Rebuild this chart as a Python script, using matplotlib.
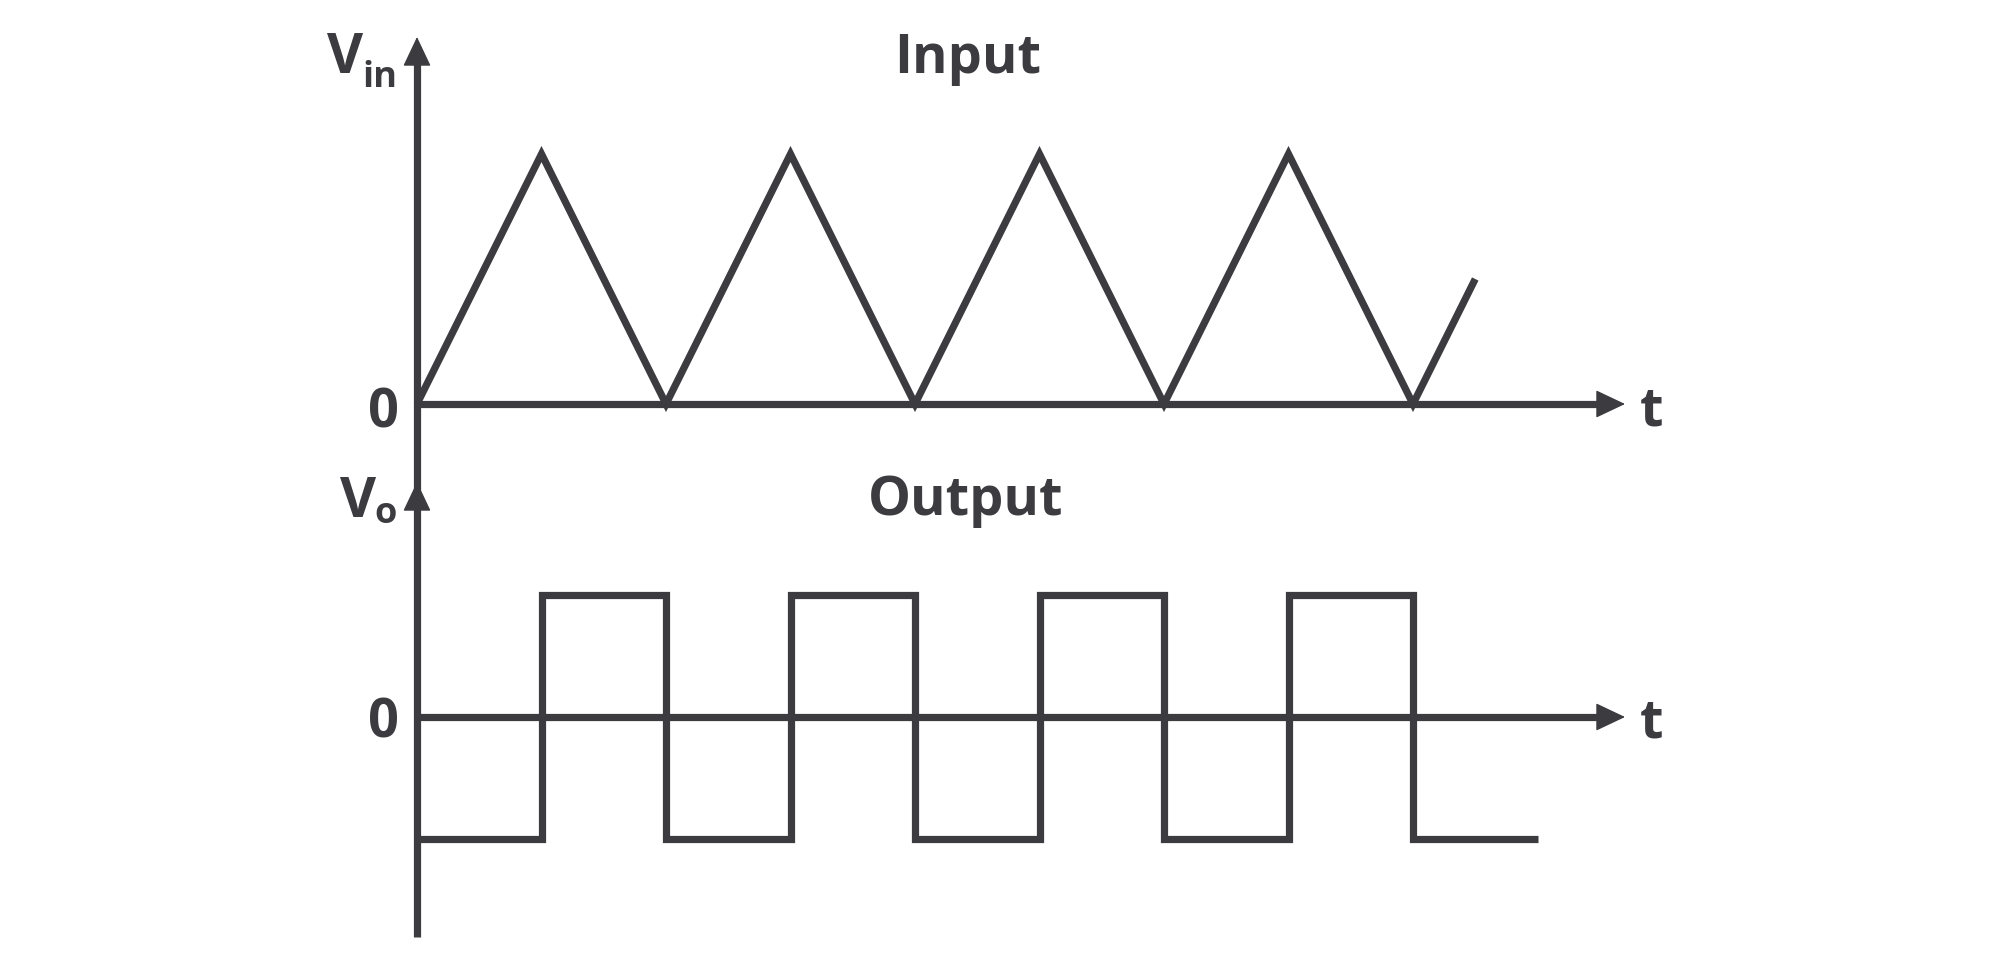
import numpy as np
import matplotlib.pyplot as plt

ink = '#3b3b40'
plt.rcParams['font.family'] = ['Open Sans', 'DejaVu Sans']

# input: triangle wave, time in half-periods
t_in = [0, 1, 2, 3, 4, 5, 6, 7, 8, 8.5]
v_in = [0, 1, 0, 1, 0, 1, 0, 1, 0, 0.5]

# output: square wave, flips at every peak / trough of the input
t_sw = [0, 1, 2, 3, 4, 5, 6, 7, 8, 9]
v_out = [-1, 1, -1, 1, -1, 1, -1, 1, -1]

W, H = 2000, 976
x0, ux = 417, 124.5          # pixel of t=0, pixels per unit
y0_top, uy_top = 404, 250
y0_bot, uy_bot = 717, 122

fig = plt.figure(figsize=(W / 100, H / 100), dpi=100)
ax1 = fig.add_axes([0, 0, 1, 1])
ax2 = fig.add_axes([0, 0, 1, 1])
ax2.patch.set_alpha(0)
for ax, y0, uy in [(ax1, y0_top, uy_top), (ax2, y0_bot, uy_bot)]:
    ax.set_xlim(-x0 / ux, (W - x0) / ux)
    ax.set_ylim(-(H - y0) / uy, y0 / uy)
    ax.axis('off')

lw = 5.2
kw = dict(color=ink, lw=lw, solid_joinstyle='miter', solid_capstyle='butt')


def arrow_head(ax, tip, base):
    ax.annotate('', xy=tip, xytext=base,
                arrowprops=dict(arrowstyle='-|>,head_length=0.95,head_width=0.45',
                                mutation_scale=20, lw=1, color=ink,
                                shrinkA=0, shrinkB=0))


# top axes
t_end = (1625 - x0) / ux
ax1.plot(t_in, v_in, zorder=2, **kw)
ax1.plot([0, t_end - 0.2], [0, 0], zorder=3, **kw)
arrow_head(ax1, (t_end, 0), (t_end - 0.22, 0))
v_top = (y0_top - 37) / uy_top
ax1.plot([0, 0], [-0.35, v_top - 0.08], zorder=3, **kw)
arrow_head(ax1, (0, v_top), (0, v_top - 0.11))

# bottom axes
ax2.plot([0, t_end - 0.2], [0, 0], **kw)
arrow_head(ax2, (t_end, 0), (t_end - 0.22, 0))
v_bot = (y0_bot - 482) / uy_bot
ax2.plot([0, 0], [-(937 - y0_bot) / uy_bot, v_bot - 0.15], **kw)
arrow_head(ax2, (0, v_bot), (0, v_bot - 0.22))
ax2.step(t_sw, v_out + [v_out[-1]], where='post', **kw)


def label(s, x, y, size=39, ha='left'):
    fig.text(x / W, 1 - y / H, s, fontsize=size, color=ink, ha=ha,
             va='baseline', fontweight='bold')


label('Input', 968, 73, ha='center')
label('Output', 966, 515, ha='center')
label('V', 327, 73, size=40)
label('in', 362, 87, size=26)
label('V', 340, 517, size=40)
label('o', 374, 523, size=26)
label('0', 399, 427, ha='right')
label('0', 399, 737, ha='right')
label('t', 1640, 425)
label('t', 1640, 738)

fig.savefig('out.png', dpi=100)
